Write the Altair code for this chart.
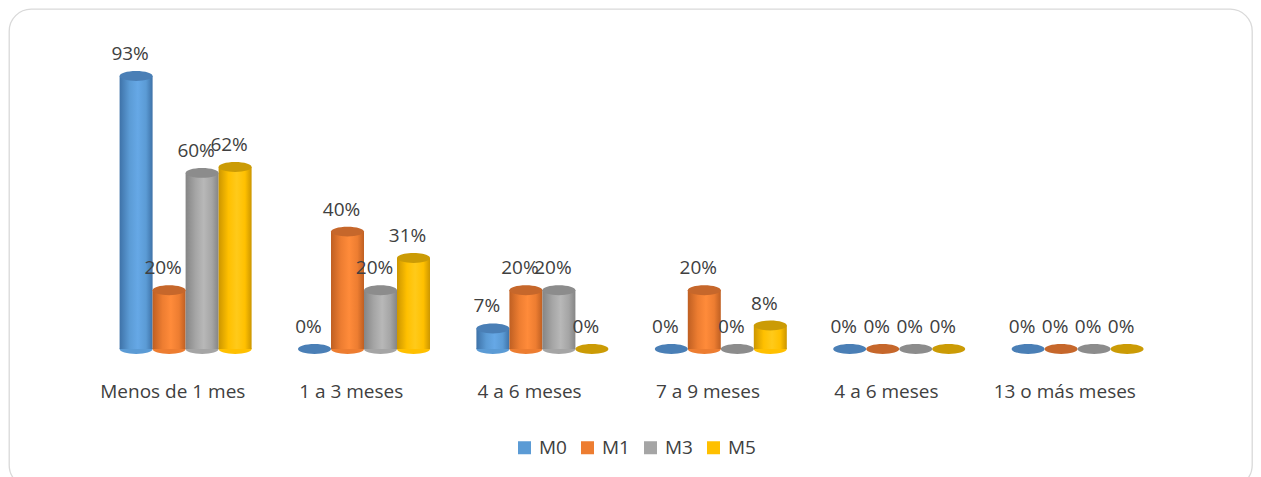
import json
import altair as alt
import pandas as pd

title_text = "Gráfico 11 Tiempo que tardó el graduado para encontrar empleo."
categories = ["Menos de 1 mes", "1 a 3 meses", "4 a 6 meses", "7 a 9 meses", "4 a 6 meses", "13 o más meses"]
series = ["M0", "M1", "M3", "M5"]
m0 = [0.93, 0.00, 0.07, 0.00, 0.00, 0.00]
m1 = [0.20, 0.40, 0.20, 0.20, 0.00, 0.00]
m3 = [0.60, 0.20, 0.20, 0.00, 0.00, 0.00]
m5 = [0.62, 0.31, 0.00, 0.08, 0.00, 0.00]

base_colors = ["#5B9BD5", "#ED7D31", "#A5A5A5", "#FFC000"]
edge_colors = ["#3E72A8", "#BF5F22", "#858585", "#CC9600"]
light_colors = ["#66A8E6", "#FF8B3A", "#B8B8B8", "#FFCA1A"]
top_colors = ["#4A7FB6", "#C6672B", "#8C8C8C", "#CB9B05"]

values = {"M0": m0, "M1": m1, "M3": m3, "M5": m5}
rows = []
for s in series:
    for i, v in enumerate(values[s]):
        rows.append({"idx": i, "serie": s, "value": v, "base": 0.0})
df = pd.DataFrame(rows)

FONT = "Open Sans"
TXT = "#404040"
ELL = "M -1 0 A 1 0.3 0 1 1 1 0 A 1 0.3 0 1 1 -1 0 Z"
ELL_SIZE = 33 * 33

label_expr = json.dumps(categories) + "[datum.value]"

x_enc = alt.X(
    "idx:O",
    scale=alt.Scale(type="band", domain=list(range(len(categories))), range=[74.6, 1145],
                    paddingInner=0, paddingOuter=0),
    axis=alt.Axis(title=None, labelExpr=label_expr, ticks=False, tickSize=0, domain=False,
                  grid=False, labelPadding=0, labelBaseline="middle", labelAngle=0,
                  offset=-96, labelFontSize=19, labelFont=FONT, labelColor=TXT),
)
xo_enc = alt.XOffset(
    "serie:N",
    scale=alt.Scale(type="band", domain=series, range=[36, 168], paddingInner=0, paddingOuter=0),
)
y_scale = alt.Scale(domain=[0, 1], range=[340, 46.5], nice=False, zero=True)
y_enc = alt.Y("value:Q", scale=y_scale, axis=None)

base = alt.Chart(df)

bottom = base.transform_filter("datum.value > 0").mark_point(
    shape=ELL, size=ELL_SIZE, filled=True, opacity=1, strokeWidth=0
).encode(
    x=x_enc, xOffset=xo_enc,
    y=alt.Y("base:Q", scale=y_scale, axis=None),
    color=alt.Color(
        "serie:N",
        scale=alt.Scale(domain=series, range=base_colors),
        legend=alt.Legend(
            title=None, orient="none", legendX=506, legendY=429, direction="horizontal",
            symbolType="square", symbolSize=169, symbolStrokeWidth=0, symbolOpacity=1,
            labelFontSize=19, labelFont=FONT, labelColor=TXT, labelOffset=5,
            columnPadding=11, padding=0,
        ),
    ),
)

layers = [bottom]
for k, s in enumerate(series):
    grad = alt.Gradient(
        gradient="linear", x1=0, x2=1, y1=0, y2=0,
        stops=[
            alt.GradientStop(color=edge_colors[k], offset=0),
            alt.GradientStop(color=base_colors[k], offset=0.3),
            alt.GradientStop(color=light_colors[k], offset=0.55),
            alt.GradientStop(color=base_colors[k], offset=0.8),
            alt.GradientStop(color=edge_colors[k], offset=1),
        ],
    )
    body = base.transform_filter(f"datum.serie == '{s}' && datum.value > 0").mark_bar(
        fill=grad, strokeWidth=0
    ).encode(x=x_enc, xOffset=xo_enc, y=y_enc)
    layers.append(body)

for k, s in enumerate(series):
    top = base.transform_filter(f"datum.serie == '{s}'").mark_point(
        shape=ELL, size=ELL_SIZE, filled=True, opacity=1, strokeWidth=0, fill=top_colors[k]
    ).encode(x=x_enc, xOffset=xo_enc, y=y_enc)
    layers.append(top)

labels = base.mark_text(
    dy=-22, dx=-6, fontSize=19, font=FONT, color=TXT, baseline="middle", align="center"
).encode(x=x_enc, xOffset=xo_enc, y=y_enc, text=alt.Text("value:Q", format=".0%"))
layers.append(labels)

title = alt.Chart(pd.DataFrame({"t": [title_text]})).mark_text(
    fontSize=22, font=FONT, color=TXT, baseline="alphabetic", align="center"
).encode(text="t:N", x=alt.value(619), y=alt.value(-8))
layers.append(title)

chart = alt.layer(*layers).properties(
    width=1243, height=478,
    autosize=alt.AutoSizeParams(type="none"),
    padding={"left": 1, "top": 1, "right": 1, "bottom": -10},
    background="white",
).configure_view(
    stroke="#D9D9D9", strokeWidth=1.3, cornerRadius=22, fill="white"
)

chart.save("out.html", embed_options={"renderer": "svg", "actions": False})
